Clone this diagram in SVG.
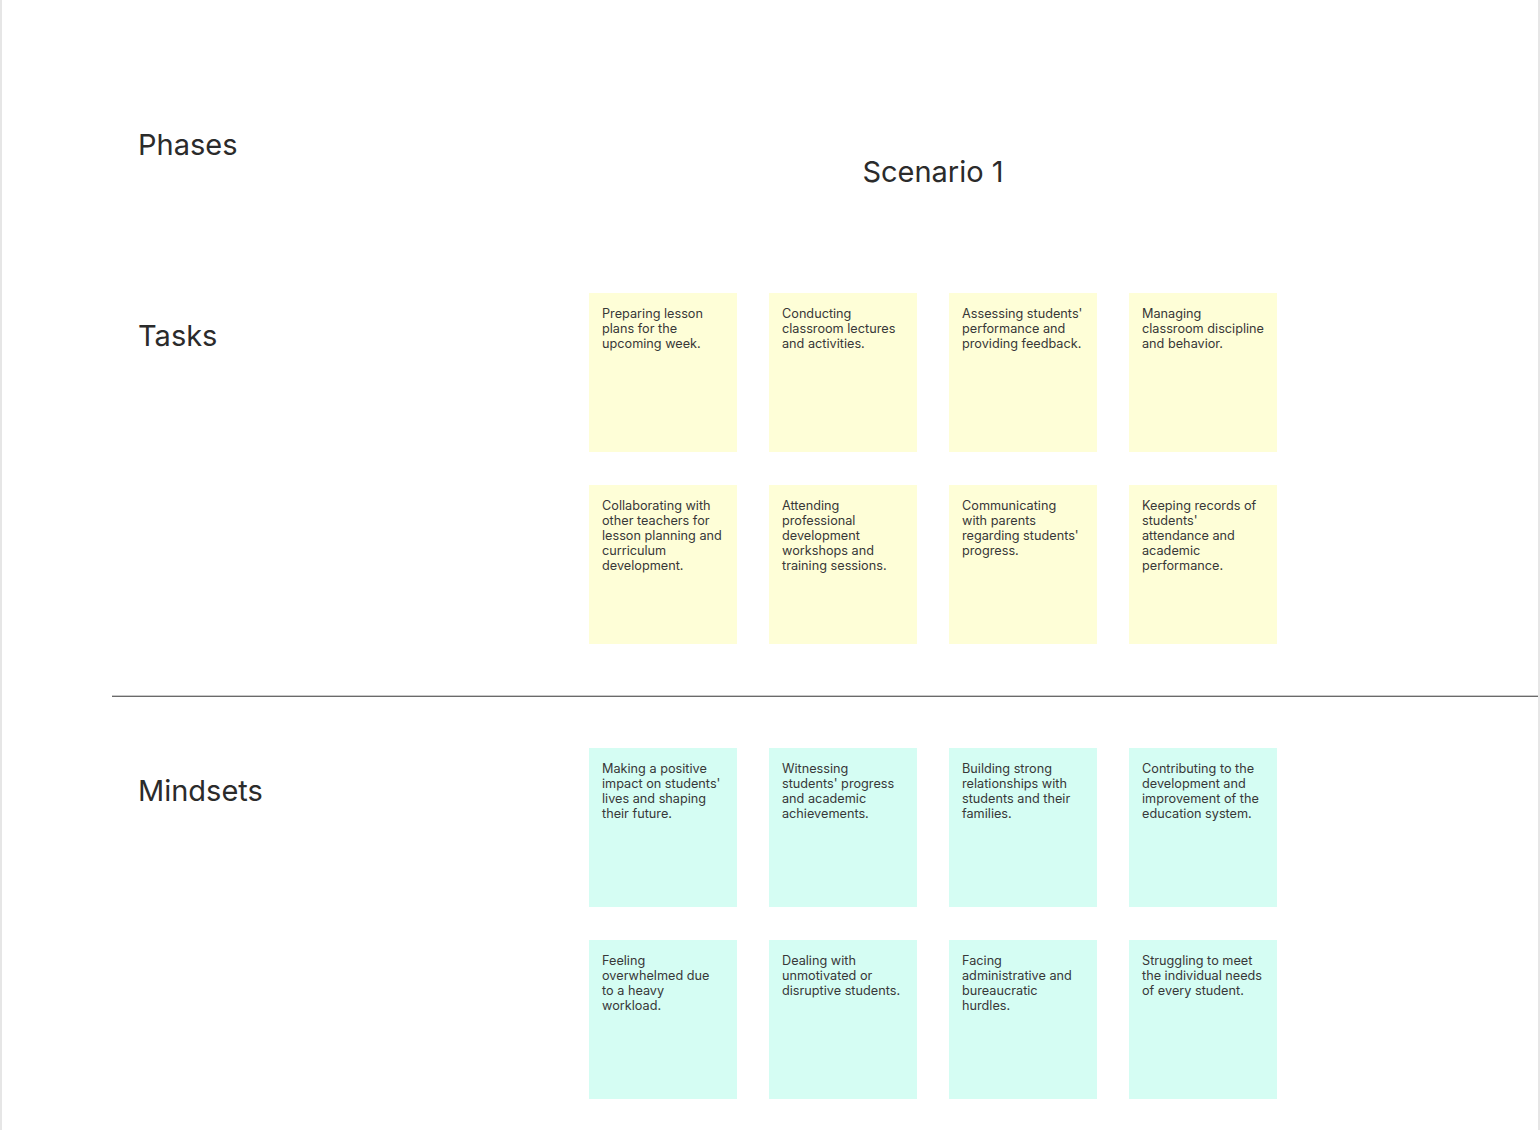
<svg xmlns="http://www.w3.org/2000/svg" width="1540" height="1130" viewBox="0 0 1540 1130">
<style>
.t{font-family:Inter,"Noto Sans","Liberation Sans",sans-serif;font-size:12.7px;fill:#383838}
.h{font-family:Inter,"Noto Sans","Liberation Sans",sans-serif;font-size:29px;fill:#2b2b2b}
.y{fill:#fefed7}
.c{fill:#d5fdf3}
</style>
<rect width="1540" height="1130" fill="#ffffff"/>
<rect x="0" y="0" width="2" height="1130" fill="#e6e6e6"/>
<rect x="1538" y="0" width="2" height="1130" fill="#e6e6e6"/>
<g id="labels">
<text class="h" x="138" y="155">Phases</text>
<text class="h" x="933" y="182" text-anchor="middle">Scenario 1</text>
<text class="h" x="138" y="346">Tasks</text>
<text class="h" x="138" y="801">Mindsets</text>
</g>
<g id="connectors">
<line x1="112" y1="695.5" x2="1538" y2="695.5" stroke="#c8c8c8" stroke-width="1"/>
<line x1="112" y1="696.5" x2="1538" y2="696.5" stroke="#6a6a6a" stroke-width="1"/>
</g>
<g id="t1"><rect class="y" x="589" y="293" width="148" height="159"/><text class="t" x="602" y="318"><tspan x="602">Preparing lesson</tspan><tspan x="602" dy="15">plans for the</tspan><tspan x="602" dy="15">upcoming week.</tspan></text></g>
<g id="t2"><rect class="y" x="769" y="293" width="148" height="159"/><text class="t" x="782" y="318"><tspan x="782">Conducting</tspan><tspan x="782" dy="15">classroom lectures</tspan><tspan x="782" dy="15">and activities.</tspan></text></g>
<g id="t3"><rect class="y" x="949" y="293" width="148" height="159"/><text class="t" x="962" y="318"><tspan x="962">Assessing students'</tspan><tspan x="962" dy="15">performance and</tspan><tspan x="962" dy="15">providing feedback.</tspan></text></g>
<g id="t4"><rect class="y" x="1129" y="293" width="148" height="159"/><text class="t" x="1142" y="318"><tspan x="1142">Managing</tspan><tspan x="1142" dy="15">classroom discipline</tspan><tspan x="1142" dy="15">and behavior.</tspan></text></g>
<g id="t5"><rect class="y" x="589" y="485" width="148" height="159"/><text class="t" x="602" y="510"><tspan x="602">Collaborating with</tspan><tspan x="602" dy="15">other teachers for</tspan><tspan x="602" dy="15">lesson planning and</tspan><tspan x="602" dy="15">curriculum</tspan><tspan x="602" dy="15">development.</tspan></text></g>
<g id="t6"><rect class="y" x="769" y="485" width="148" height="159"/><text class="t" x="782" y="510"><tspan x="782">Attending</tspan><tspan x="782" dy="15">professional</tspan><tspan x="782" dy="15">development</tspan><tspan x="782" dy="15">workshops and</tspan><tspan x="782" dy="15">training sessions.</tspan></text></g>
<g id="t7"><rect class="y" x="949" y="485" width="148" height="159"/><text class="t" x="962" y="510"><tspan x="962">Communicating</tspan><tspan x="962" dy="15">with parents</tspan><tspan x="962" dy="15">regarding students'</tspan><tspan x="962" dy="15">progress.</tspan></text></g>
<g id="t8"><rect class="y" x="1129" y="485" width="148" height="159"/><text class="t" x="1142" y="510"><tspan x="1142">Keeping records of</tspan><tspan x="1142" dy="15">students'</tspan><tspan x="1142" dy="15">attendance and</tspan><tspan x="1142" dy="15">academic</tspan><tspan x="1142" dy="15">performance.</tspan></text></g>
<g id="m1"><rect class="c" x="589" y="748" width="148" height="159"/><text class="t" x="602" y="773"><tspan x="602">Making a positive</tspan><tspan x="602" dy="15">impact on students'</tspan><tspan x="602" dy="15">lives and shaping</tspan><tspan x="602" dy="15">their future.</tspan></text></g>
<g id="m2"><rect class="c" x="769" y="748" width="148" height="159"/><text class="t" x="782" y="773"><tspan x="782">Witnessing</tspan><tspan x="782" dy="15">students' progress</tspan><tspan x="782" dy="15">and academic</tspan><tspan x="782" dy="15">achievements.</tspan></text></g>
<g id="m3"><rect class="c" x="949" y="748" width="148" height="159"/><text class="t" x="962" y="773"><tspan x="962">Building strong</tspan><tspan x="962" dy="15">relationships with</tspan><tspan x="962" dy="15">students and their</tspan><tspan x="962" dy="15">families.</tspan></text></g>
<g id="m4"><rect class="c" x="1129" y="748" width="148" height="159"/><text class="t" x="1142" y="773"><tspan x="1142">Contributing to the</tspan><tspan x="1142" dy="15">development and</tspan><tspan x="1142" dy="15">improvement of the</tspan><tspan x="1142" dy="15">education system.</tspan></text></g>
<g id="m5"><rect class="c" x="589" y="940" width="148" height="159"/><text class="t" x="602" y="965"><tspan x="602">Feeling</tspan><tspan x="602" dy="15">overwhelmed due</tspan><tspan x="602" dy="15">to a heavy</tspan><tspan x="602" dy="15">workload.</tspan></text></g>
<g id="m6"><rect class="c" x="769" y="940" width="148" height="159"/><text class="t" x="782" y="965"><tspan x="782">Dealing with</tspan><tspan x="782" dy="15">unmotivated or</tspan><tspan x="782" dy="15">disruptive students.</tspan></text></g>
<g id="m7"><rect class="c" x="949" y="940" width="148" height="159"/><text class="t" x="962" y="965"><tspan x="962">Facing</tspan><tspan x="962" dy="15">administrative and</tspan><tspan x="962" dy="15">bureaucratic</tspan><tspan x="962" dy="15">hurdles.</tspan></text></g>
<g id="m8"><rect class="c" x="1129" y="940" width="148" height="159"/><text class="t" x="1142" y="965"><tspan x="1142">Struggling to meet</tspan><tspan x="1142" dy="15">the individual needs</tspan><tspan x="1142" dy="15">of every student.</tspan></text></g>
</svg>
